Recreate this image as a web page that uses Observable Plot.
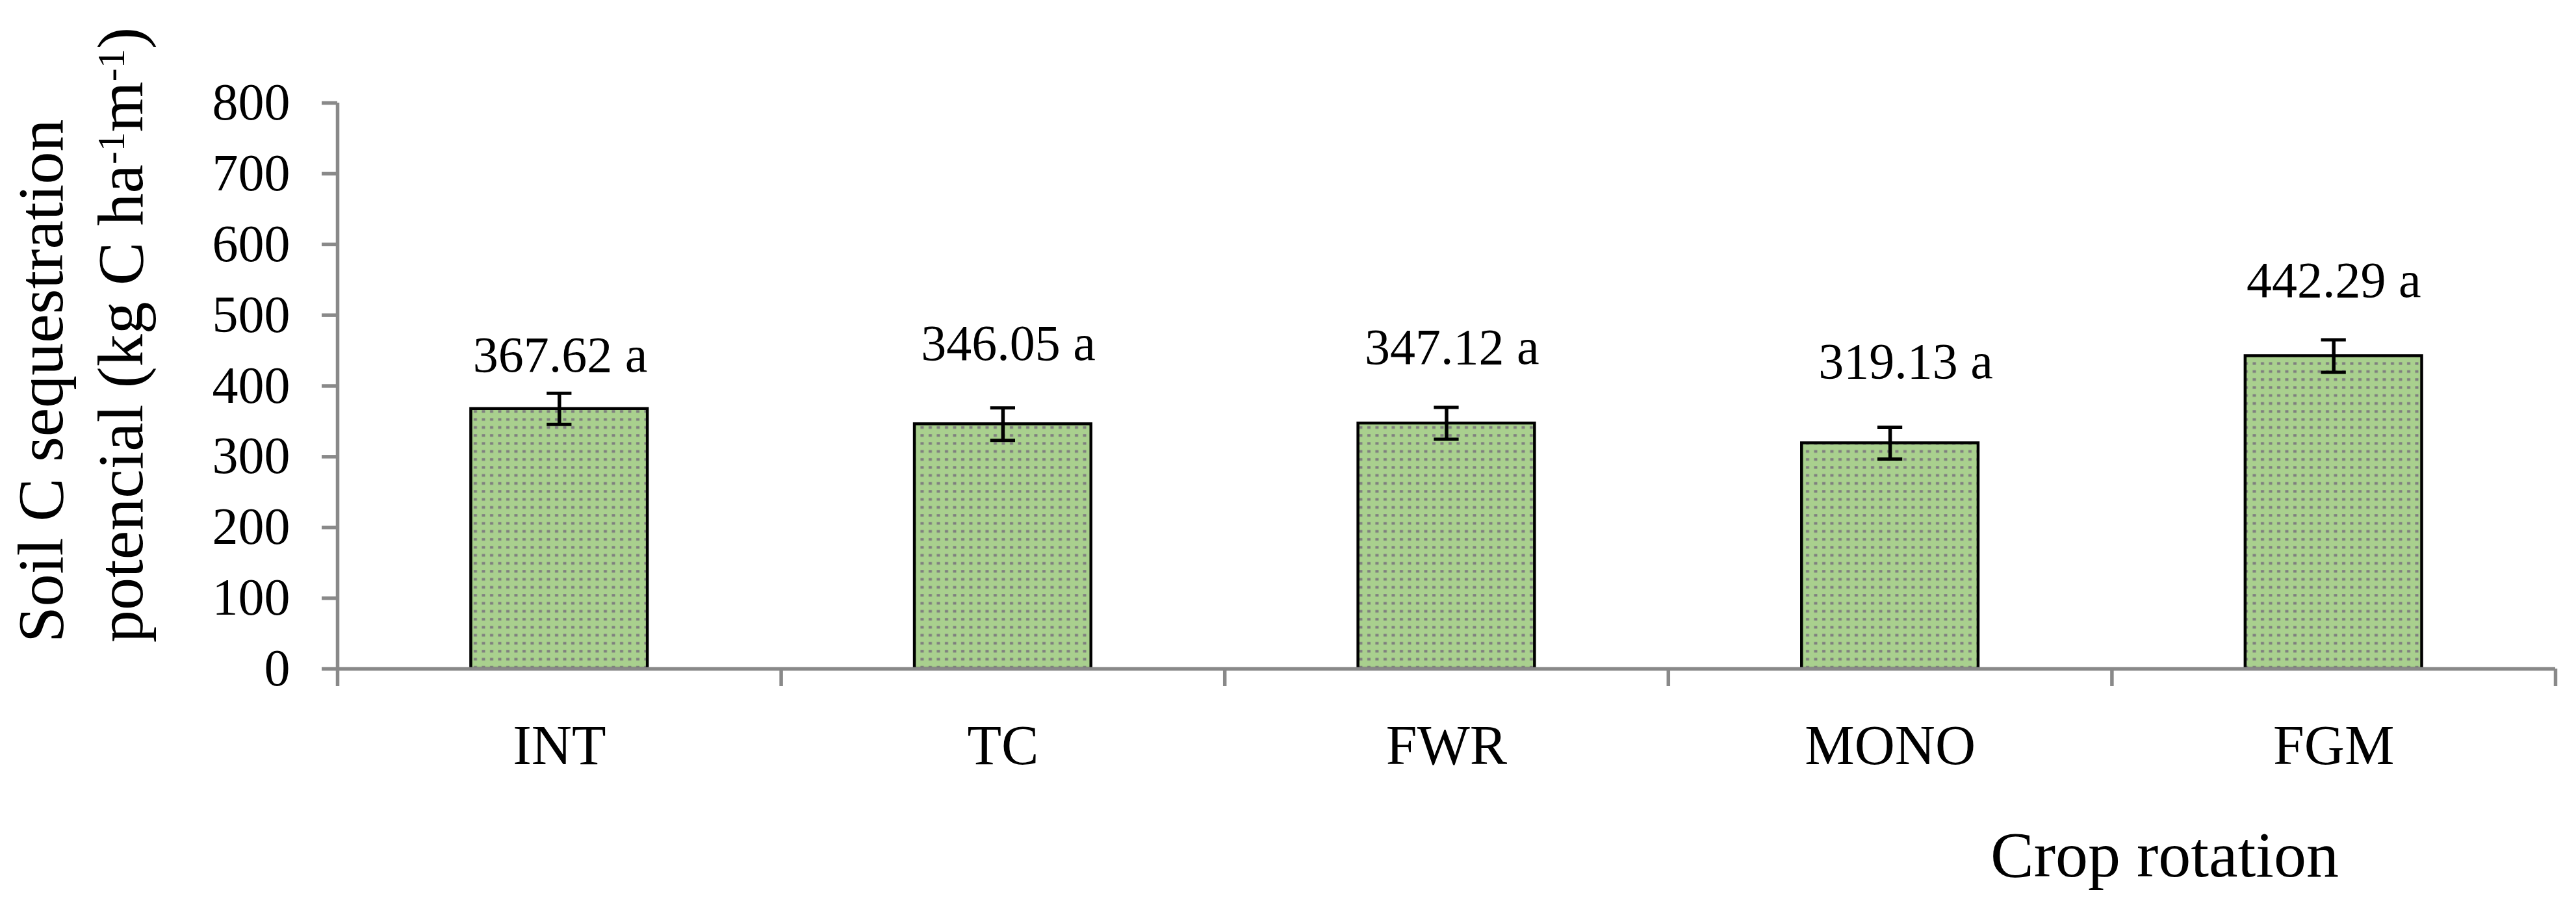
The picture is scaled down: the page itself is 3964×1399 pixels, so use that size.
<!DOCTYPE html>
<html><head><meta charset="utf-8">
<script src="https://cdn.jsdelivr.net/npm/d3@7"></script>
<script src="https://cdn.jsdelivr.net/npm/@observablehq/plot@0.6"></script>
<style>html,body{margin:0;padding:0;background:#fff;}</style>
</head><body><div id="chart"></div>
<script>
// ---- data ----
const categories = ["INT", "TC", "FWR", "MONO", "FGM"];
const values = [367.62, 346.05, 347.12, 319.13, 442.29];
const errors = [22, 23, 22.5, 22.5, 23];
const letters = ["a", "a", "a", "a", "a"];
const yTicks = [0, 100, 200, 300, 400, 500, 600, 700, 800];
const xTitle = "Crop rotation";
const yTitle1 = "Soil C sequestration";

// ---- layout (not data) ----
const labelLift = [53, 91, 84.5, 91.5, 83.5];     // label baseline above bar top, y units
const labelShift = [0.002, 0.012, 0.012, 0.035, 0]; // label horizontal nudge, x units
const barHalf = 0.199;
const capHalf = 0.028;

const rows = categories.map((c, i) => ({
  c, i, v: values[i], e: errors[i],
  cx: i + 0.5,
  label: `${values[i].toFixed(2)} ${letters[i]}`,
  ly: values[i] + labelLift[i],
  lx: i + 0.5 + labelShift[i]
}));

const FONT = "Liberation Serif, 'Times New Roman', serif";
const GRAY = "#898989";

const svg = Plot.plot({
  width: 3964,
  height: 1399,
  marginLeft: 519,
  marginRight: 32,
  marginTop: 158,
  marginBottom: 370,
  style: {fontFamily: FONT, background: "white", color: "black"},
  x: {type: "linear", domain: [0, categories.length]},
  y: {domain: [0, 800]},
  marks: [
    Plot.rectY(rows, {
      x1: d => d.cx - barHalf, x2: d => d.cx + barHalf, y1: 0, y2: "v",
      fill: "url(#dots)", stroke: "black", strokeWidth: 4.5
    }),
    Plot.ruleY([0], {stroke: GRAY, strokeWidth: 5.5}),
    Plot.ruleX([0], {y1: 0, y2: 800, stroke: GRAY, strokeWidth: 5.5}),
    Plot.axisY({
      ticks: yTicks, tickSize: 24, tickPadding: 49, fontSize: 80,
      stroke: GRAY, strokeWidth: 5.5, strokeOpacity: 1, fill: "black"
    }),
    Plot.axisX({
      ticks: d3.range(categories.length + 1), tickSize: 27, tickFormat: () => "",
      stroke: GRAY, strokeWidth: 5.5, strokeOpacity: 1
    }),
    Plot.axisX({
      ticks: categories.map((c, i) => i + 0.5), tickSize: 0, tickPadding: 85, fontSize: 86,
      tickFormat: d => categories[Math.round(d - 0.5)], fill: "black"
    }),
    Plot.ruleX(rows, {x: "cx", y1: d => d.v - d.e, y2: d => d.v + d.e, stroke: "black", strokeWidth: 5.5}),
    Plot.ruleY(rows, {y: d => d.v + d.e, x1: d => d.cx - capHalf, x2: d => d.cx + capHalf, stroke: "black", strokeWidth: 5}),
    Plot.ruleY(rows, {y: d => d.v - d.e, x1: d => d.cx - capHalf, x2: d => d.cx + capHalf, stroke: "black", strokeWidth: 5}),
    Plot.text(rows, {x: "lx", y: "ly", text: "label", fontSize: 78, lineAnchor: "bottom", fill: "black"}),
    Plot.text([xTitle], {frameAnchor: "bottom", dx: 1105, dy: 319, lineAnchor: "bottom", fontSize: 100, fill: "black"})
  ]
});

// pattern fill for bars
const defs = d3.select(svg).insert("defs", ":first-child");
const pat = defs.append("pattern").attr("id", "dots")
  .attr("patternUnits", "userSpaceOnUse").attr("width", 12.5).attr("height", 12.3);
pat.append("rect").attr("width", 12.5).attr("height", 12.3).attr("fill", "#a9d08e");
pat.append("rect").attr("x", 4).attr("y", 4).attr("width", 5).attr("height", 4).attr("fill", "#7f7f7f");

// y-axis title (two lines, rotated, with superscripts)
const g = d3.select(svg).append("g").attr("font-family", FONT).attr("font-size", 100)
  .attr("fill", "black").attr("text-anchor", "start");
g.append("text").attr("text-anchor", "start").attr("transform", "translate(96,989) rotate(-90)").text(yTitle1);
const t2 = g.append("text").attr("text-anchor", "start").attr("transform", "translate(219,989) rotate(-90)");
t2.append("tspan").text("potencial (kg C ha");
t2.append("tspan").attr("font-size", 60).attr("dy", -28).text("-1");
t2.append("tspan").attr("dy", 28).text("m");
t2.append("tspan").attr("font-size", 60).attr("dy", -28).text("-1");
t2.append("tspan").attr("dy", 28).text(")");

document.getElementById("chart").appendChild(svg);
</script>
</body></html>
